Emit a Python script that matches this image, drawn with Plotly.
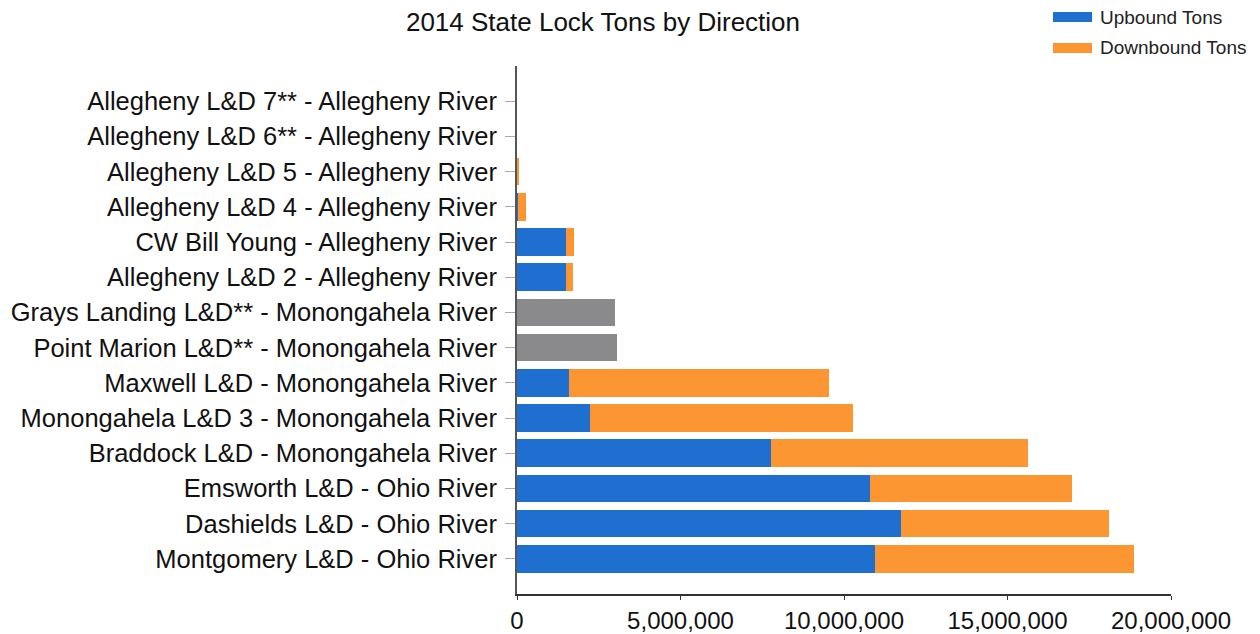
import plotly.graph_objects as go

locks = [
    "Montgomery L&D - Ohio River",
    "Dashields L&D - Ohio River",
    "Emsworth L&D - Ohio River",
    "Braddock L&D - Monongahela River",
    "Monongahela L&D 3 - Monongahela River",
    "Maxwell L&D - Monongahela River",
    "Point Marion L&D** - Monongahela River",
    "Grays Landing L&D** - Monongahela River",
    "Allegheny L&D 2 - Allegheny River",
    "CW Bill Young - Allegheny River",
    "Allegheny L&D 4 - Allegheny River",
    "Allegheny L&D 5 - Allegheny River",
    "Allegheny L&D 6** - Allegheny River",
    "Allegheny L&D 7** - Allegheny River",
]
upbound = [10950000, 11750000, 10790000, 7780000, 2230000, 1600000, 0, 0,
           1500000, 1500000, 20000, 0, 0, 0]
downbound = [7930000, 6360000, 6190000, 7850000, 8040000, 7940000, 0, 0,
             210000, 230000, 240000, 50000, 0, 0]
total_only = [0, 0, 0, 0, 0, 0, 3050000, 3000000, 0, 0, 0, 0, 0, 0]
x_ticks = [0, 5000000, 10000000, 15000000, 20000000]

BLUE = "#1f6fd1"
ORANGE = "#fb9632"
GRAY = "#8a898b"
FONT = "Liberation Sans, Arial, sans-serif"

# the page body adds an 8px offset; lay out in page (screen) pixels
OFF = 8
SCREEN_W, SCREEN_H = 1260, 634
W, H = SCREEN_W - OFF, SCREEN_H - OFF
PLOT_L, PLOT_R, PLOT_T, PLOT_B = 517, 1171, 66, 594   # screen px
ML = PLOT_L - OFF
MT = PLOT_T - OFF
MR = W - (PLOT_R - OFF)
MB = H - (PLOT_B - OFF)

fig = go.Figure()
fig.add_trace(go.Bar(y=locks, x=upbound, orientation="h", name="Upbound Tons",
                     marker=dict(color=BLUE, line=dict(width=0))))
fig.add_trace(go.Bar(y=locks, x=downbound, orientation="h", name="Downbound Tons",
                     marker=dict(color=ORANGE, line=dict(width=0))))
fig.add_trace(go.Bar(y=locks, x=total_only, orientation="h", name="Total Tons",
                     marker=dict(color=GRAY, line=dict(width=0)), showlegend=False))

pw = PLOT_R - PLOT_L
ph = PLOT_B - PLOT_T


def px_x(p):
    return (p - PLOT_L) / pw


def px_y(p):
    return (PLOT_B - p) / ph


shapes = []
annotations = []
legend_items = [("Upbound Tons", BLUE, 12, 22), ("Downbound Tons", ORANGE, 43, 53)]
for label, col, y0, y1 in legend_items:
    shapes.append(dict(type="rect", xref="paper", yref="paper",
                       x0=px_x(1053), x1=px_x(1092), y0=px_y(y1), y1=px_y(y0),
                       fillcolor=col, line=dict(width=0)))
    annotations.append(dict(xref="paper", yref="paper", x=px_x(1098),
                            y=px_y((y0 + y1) / 2), text=label, showarrow=False,
                            xanchor="left", yanchor="middle",
                            font=dict(family=FONT, size=19, color="#222222")))

fig.update_layout(
    width=W, height=H,
    margin=dict(l=ML, r=MR, t=MT, b=MB, autoexpand=False),
    barmode="stack",
    bargap=0.22,
    paper_bgcolor="white",
    plot_bgcolor="white",
    showlegend=False,
    title=dict(text="2014 State Lock Tons by Direction", x=(603 - OFF) / W,
               xanchor="center", xref="container", y=1 - (22 - OFF) / H,
               yanchor="middle",
               font=dict(family=FONT, size=26, color="#111111")),
    font=dict(family=FONT, color="#111111"),
    shapes=shapes,
    annotations=annotations,
)
fig.update_xaxes(range=[0, 20000000], tickvals=x_ticks, tickformat=",d",
                 showgrid=False, zeroline=False, showline=True, linecolor="#333333",
                 linewidth=2, ticks="outside", ticklen=4, tickcolor="#333333",
                 automargin=False,
                 tickfont=dict(family=FONT, size=24, color="#111111"))
fig.update_yaxes(type="category", range=[-1, 14], showgrid=False, showline=True,
                 linecolor="#555555", linewidth=2, ticks="outside", ticklen=10,
                 tickcolor="#aaaaaa", ticklabelstandoff=3, automargin=False,
                 tickfont=dict(family=FONT, size=25.5, color="#111111"))

fig.write_html("out.html")
